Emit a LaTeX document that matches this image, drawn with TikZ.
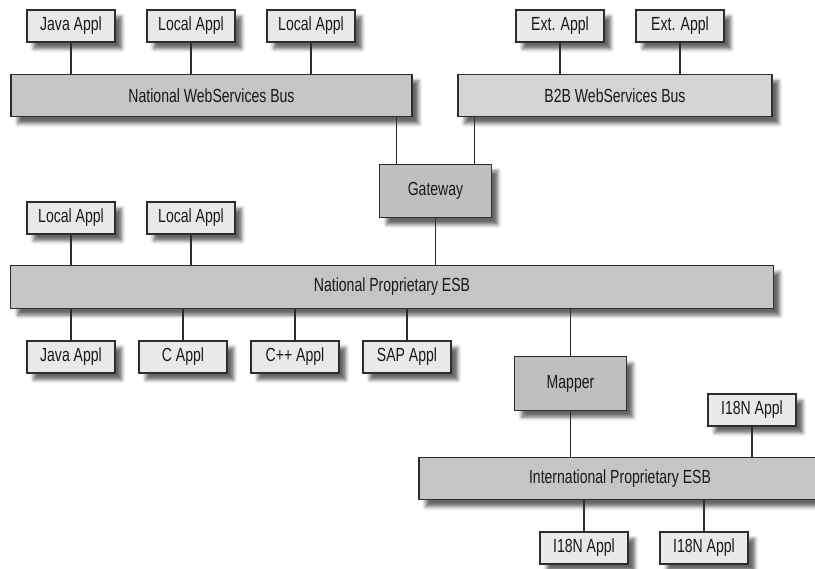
\documentclass[tikz,border=0pt]{standalone}
\usepackage{fontspec}
\setmainfont{Liberation Sans}[FakeStretch=0.74]
\usetikzlibrary{shadows.blur}

\definecolor{appfill}{RGB}{232,233,234}
\definecolor{busfill}{RGB}{196,197,199}
\definecolor{extbus}{RGB}{211,212,214}
\definecolor{hubfill}{RGB}{190,191,193}
\definecolor{edgegray}{RGB}{45,45,45}

\begin{document}
\begin{tikzpicture}[x=0.025cm, y=-0.025cm,
        every node/.style={draw=edgegray, line width=0.8pt, rectangle, inner sep=0pt,
            font=\fontsize{13.5}{15}\selectfont, text=black!90,
            blur shadow={shadow xshift=0.17cm, shadow yshift=-0.17cm,
                shadow blur radius=0.09cm, shadow opacity=60}},
        appl/.style={fill=appfill, minimum width=2.2cm, minimum height=0.8cm},
        bus/.style={fill=busfill, minimum height=1.07cm},
        hub/.style={fill=hubfill, minimum width=2.78cm, minimum height=1.34cm},
        link/.style={draw=edgegray, line width=0.8pt}]
                \useasboundingbox (0, 0) rectangle (815, 569);

                % Nodes
                \node[appl] at (71, 26) (java1) {Java Appl};
                \node[appl] at (191, 26) (local1) {Local Appl};
                \node[appl] at (311, 26) (local2) {Local Appl};
                \node[appl] at (560, 26) (ext1) {Ext. Appl};
                \node[appl] at (680, 26) (ext2) {Ext. Appl};

                \node[bus, minimum width=10.02cm] at (211.5, 95.5) (nwsb) {National WebServices Bus};
                \node[bus, fill=extbus, minimum width=7.85cm] at (615, 95.5) (b2b) {B2B WebServices Bus};

                \node[hub] at (435.5, 191) (gateway) {Gateway};

                \node[appl] at (71, 218) (local3) {Local Appl};
                \node[appl] at (191, 218) (local4) {Local Appl};

                \node[bus, minimum width=19.05cm] at (392, 287) (npesb) {National Proprietary ESB};

                \node[appl] at (71, 357) (java2) {Java Appl};
                \node[appl] at (183, 357) (cappl) {C Appl};
                \node[appl] at (295, 357) (cppappl) {C++ Appl};
                \node[appl] at (407, 357) (sapappl) {SAP Appl};

                \node[hub] at (570.5, 383.5) (mapper) {Mapper};
                \node[appl] at (752, 410) (i18n1) {I18N Appl};

                \node[bus, minimum width=10.05cm] at (620, 478.5) (iesb) {International Proprietary ESB};

                \node[appl] at (584, 548) (i18n2) {I18N Appl};
                \node[appl] at (704, 548) (i18n3) {I18N Appl};

                % Edges
                \draw[link] (java1.south) -- (java1.south |- nwsb.north);
                \draw[link] (local1.south) -- (local1.south |- nwsb.north);
                \draw[link] (local2.south) -- (local2.south |- nwsb.north);
                \draw[link] (ext1.south) -- (ext1.south |- b2b.north);
                \draw[link] (ext2.south) -- (ext2.south |- b2b.north);

                \draw[link] ([xshift=0.425cm]gateway.north west) -- ([xshift=0.425cm]gateway.north west |- nwsb.south);
                \draw[link] ([xshift=-0.425cm]gateway.north east) -- ([xshift=-0.425cm]gateway.north east |- b2b.south);
                \draw[link] (gateway.south) -- (gateway.south |- npesb.north);

                \draw[link] (local3.south) -- (local3.south |- npesb.north);
                \draw[link] (local4.south) -- (local4.south |- npesb.north);

                \draw[link] (java2.north) -- (java2.north |- npesb.south);
                \draw[link] (cappl.north) -- (cappl.north |- npesb.south);
                \draw[link] (cppappl.north) -- (cppappl.north |- npesb.south);
                \draw[link] (sapappl.north) -- (sapappl.north |- npesb.south);

                \draw[link] (mapper.north) -- (mapper.north |- npesb.south);
                \draw[link] (mapper.south) -- (mapper.south |- iesb.north);
                \draw[link] (i18n1.south) -- (i18n1.south |- iesb.north);

                \draw[link] (i18n2.north) -- (i18n2.north |- iesb.south);
                \draw[link] (i18n3.north) -- (i18n3.north |- iesb.south);
            \end{tikzpicture}
\end{document}
